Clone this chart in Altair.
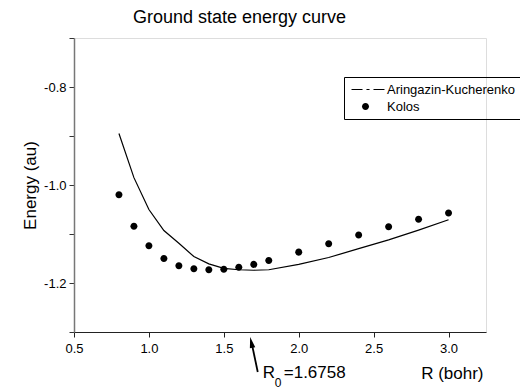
import altair as alt
import pandas as pd

# ---- data ----
r_grid = [0.8, 0.9, 1.0, 1.1, 1.2, 1.3, 1.4, 1.5, 1.6, 1.7, 1.8, 2.0, 2.2, 2.4, 2.6, 2.8, 3.0]
e_kolos = [-1.020, -1.084, -1.124, -1.150, -1.165, -1.171, -1.173, -1.172, -1.168,
           -1.162, -1.154, -1.137, -1.120, -1.102, -1.085, -1.070, -1.057]
e_ak = [-0.895, -0.985, -1.050, -1.093, -1.119, -1.146, -1.161, -1.170, -1.173,
        -1.174, -1.173, -1.162, -1.148, -1.130, -1.112, -1.092, -1.071]
series_names = ["Aringazin-Kucherenko", "Kolos"]
r0_value = [1.6758]
r0_parts = ["R", "0", "=1.6758"]
x_ticks = [0.5, 0.75, 1.0, 1.25, 1.5, 1.75, 2.0, 2.25, 2.5, 2.75, 3.0, 3.25]
y_ticks = [-1.3, -1.2, -1.1, -1.0, -0.9, -0.8, -0.7]

FONT = "Liberation Sans"

df_ak = pd.DataFrame({"R": r_grid, "E": e_ak, "series": series_names[0]})
df_k = pd.DataFrame({"R": r_grid, "E": e_kolos, "series": series_names[1]})
df_r0 = pd.DataFrame({"r0": r0_value})

x_scale = alt.Scale(domain=[0.5, 3.25], nice=False, zero=False)
y_scale = alt.Scale(domain=[-1.3, -0.7], nice=False, zero=False)

x_axis = alt.Axis(
    values=x_ticks,
    labelExpr="(round(datum.value*100) % 50 == 0) ? format(datum.value, '.1f') : ''",
    title="R (bohr)", titleFont=FONT, titleFontSize=17, titleFontWeight="normal",
    titleColor="black", titleX=409, titleY=46, titleAlign="right",
    titleBaseline="alphabetic", titleAngle=0,
    labelFont=FONT, labelFontSize=13, labelColor="black", labelPadding=5,
    labelOverlap=False, labelFlush=False,
    tickSize=5, tickColor="#222", domainColor="#222", domainWidth=1,
    grid=False,
)
y_axis = alt.Axis(
    values=y_ticks,
    labelExpr="(abs(round(datum.value*10)) % 2 == 0) ? replace(format(datum.value, '.1f'), '\u2212', '-') : ''",
    title="Energy (au)", titleFont=FONT, titleFontSize=17, titleFontWeight="normal",
    titleColor="black", titleX=-39, titleY=147, titleAngle=270, titleAlign="center",
    titleBaseline="alphabetic",
    labelFont=FONT, labelFontSize=13, labelColor="black", labelPadding=3,
    labelOverlap=False, labelFlush=False,
    tickSize=5, tickColor="#333", domainColor="#777", domainWidth=1.5,
    grid=False,
)

# legend glyphs (filled shapes): dash-dot-dash line, and a dot
dash_path = ("M-2.15,-0.08H-0.46V0.08H-2.15Z"
             "M0.15,-0.08H0.62V0.08H0.15Z"
             "M1.23,-0.08H2.92V0.08H1.23Z")
circ_path = "M-0.54,0A0.54,0.54,0,1,0,0.54,0A0.54,0.54,0,1,0,-0.54,0Z"

line = alt.Chart(df_ak).mark_line(color="black", strokeWidth=1.2).encode(
    x=alt.X("R:Q", scale=x_scale, axis=x_axis),
    y=alt.Y("E:Q", scale=y_scale, axis=y_axis),
)

points = alt.Chart(df_k).mark_point(
    filled=True, color="black", size=169, opacity=1,
).encode(
    x=alt.X("R:Q", scale=x_scale),
    y=alt.Y("E:Q", scale=y_scale),
    shape=alt.Shape(
        "series:N",
        scale=alt.Scale(domain=series_names, range=[dash_path, circ_path]),
        legend=alt.Legend(
            title=None, orient="none", legendX=270, legendY=39,
            strokeColor="black", padding=5, rowPadding=2,
            symbolSize=169, symbolOffset=9, labelOffset=14,
            symbolFillColor="black", symbolOpacity=1,
            labelFont=FONT, labelFontSize=13, labelColor="black",
        ),
    ),
)

arrow_shaft = alt.Chart(df_r0).mark_rule(
    color="black", strokeWidth=1.8, xOffset=1.5, x2Offset=7.6
).encode(
    x=alt.X("r0:Q", scale=x_scale),
    x2="r0:Q",
    y=alt.value(305),
    y2=alt.value(334),
)

arrow_head = alt.Chart(df_r0).mark_point(
    shape="M0,-1L-0.4,0.6L0.4,0.6Z", filled=True, color="black", size=190,
    angle=347.5, opacity=1, xOffset=1.5,
).encode(
    x=alt.X("r0:Q", scale=x_scale),
    y=alt.value(305.7),
)

t_r = alt.Chart(df_r0).mark_text(
    text=r0_parts[0], font=FONT, fontSize=17, align="left", baseline="alphabetic",
    dx=12.6, color="black",
).encode(x=alt.X("r0:Q", scale=x_scale), y=alt.value(340.3))
t_sub = alt.Chart(df_r0).mark_text(
    text=r0_parts[1], font=FONT, fontSize=12, align="left", baseline="alphabetic",
    dx=24.6, color="black",
).encode(x=alt.X("r0:Q", scale=x_scale), y=alt.value(349))
t_val = alt.Chart(df_r0).mark_text(
    text=r0_parts[2], font=FONT, fontSize=17, align="left", baseline="alphabetic",
    dx=33.6, color="black",
).encode(x=alt.X("r0:Q", scale=x_scale), y=alt.value(340.3))

chart = alt.layer(line, points, arrow_shaft, arrow_head, t_r, t_sub, t_val).properties(
    width=412, height=294,
    title=alt.TitleParams(
        "Ground state energy curve", anchor="start", frame="group", dx=59,
        offset=5, font=FONT, fontSize=18, fontWeight="normal", color="black",
    ),
    autosize=alt.AutoSizeParams(type="none"),
    padding={"left": 66, "top": 30, "right": 34, "bottom": 60},
).configure_view(stroke=None).configure(background="white")

chart.save("out.html", embed_options={"renderer": "svg", "actions": False})
